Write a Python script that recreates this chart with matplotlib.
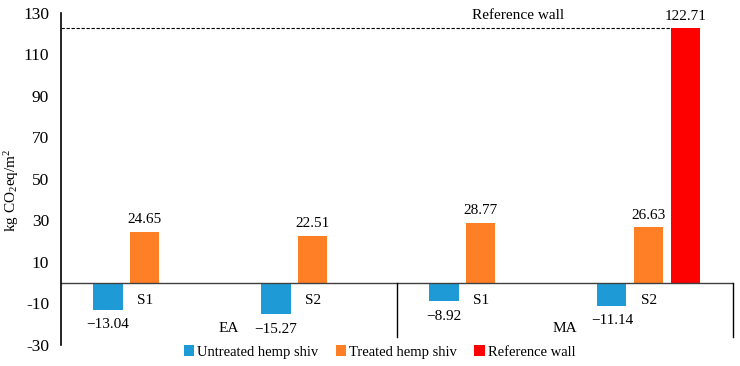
import matplotlib
matplotlib.use('Agg')
import matplotlib.pyplot as plt
import numpy as np

plt.rcParams['font.family'] = ['Liberation Serif', 'DejaVu Serif']
plt.rcParams['mathtext.fontset'] = 'custom'
plt.rcParams['mathtext.rm'] = 'Liberation Serif'
plt.rcParams['mathtext.it'] = 'Liberation Serif:italic'
plt.rcParams['axes.unicode_minus'] = False
plt.rcParams['font.size'] = 11

###  DATA  ###
categories = ['S1', 'S2', 'S1', 'S2']
groups = ['EA', 'MA']
untreated = [-13.04, -15.27, -8.92, -11.14]
treated = [24.65, 22.51, 28.77, 26.63]
reference = 122.71
yticks = [-30, -10, 10, 30, 50, 70, 90, 110, 130]

c_blue = '#1E9BD7'
c_orange = '#FF7F27'
c_red = '#FF0000'

###  PLOT  ###
fig = plt.figure(figsize=(7.4, 3.66), dpi=100)
ax = fig.add_axes([0.0824, 0.0574, 0.908, 0.9071])

x = np.arange(len(categories))
w = 0.173
off = 0.22

ax.bar(x - off, untreated, w, color=c_blue, label='Untreated hemp shiv')
ax.bar(x, treated, w, color=c_orange, label='Treated hemp shiv')
ax.bar([x[-1] + off], [reference], w, color=c_red, label='Reference wall')

for xi, v in zip(x - off, untreated):
    ax.annotate('\u2212%.2f' % abs(v), (xi, v), xytext=(0, -6), textcoords='offset points',
                ha='center', va='top')
for xi, v in zip(x, treated):
    ax.annotate('%.2f' % v, (xi, v), xytext=(0, 4), textcoords='offset points',
                ha='center', va='bottom')
ax.annotate('%.2f' % reference, (x[-1] + off, reference), xytext=(0, 4),
            textcoords='offset points', ha='center', va='bottom')

# reference dashed line
ax.plot([-0.5, x[-1] + off - w / 2], [reference, reference], 'k--', lw=0.8, dashes=(3, 1.5))
ax.text(2.22, 129, 'Reference wall', ha='center', va='center')

# zero axis and category labels
ax.axhline(0, color='#404040', lw=1)
for xi, c in zip(x, categories):
    ax.text(xi, -8.5, c, ha='center', va='center')
for i, g in enumerate(groups):
    ax.text(2 * i + 0.5, -22, g, ha='center', va='center')
for xs in [1.5, 3.5]:
    ax.plot([xs, xs], [0, -26], color='black', lw=1, clip_on=False)

ax.set_xlim(-0.5, 3.5)
ax.set_ylim(-30, 130)
ax.set_yticks(yticks)
ax.tick_params(axis='y', length=0, pad=8.5, labelsize=12.5)
ax.set_xticks([])
for s in ['top', 'right', 'bottom']:
    ax.spines[s].set_visible(False)
ax.spines['left'].set_linewidth(1.2)
ax.set_ylabel('kg CO$_2$eq/m$^2$', fontsize=11)
ax.yaxis.set_label_coords(-0.0595, 0.467)

fig.legend(loc='center', bbox_to_anchor=(0.513, 0.038), ncol=3, frameon=False,
           handlelength=0.7, handleheight=0.7, handletextpad=0.2, columnspacing=1.2,
           fontsize=10.5)

fig.savefig('out.png', dpi=100)
